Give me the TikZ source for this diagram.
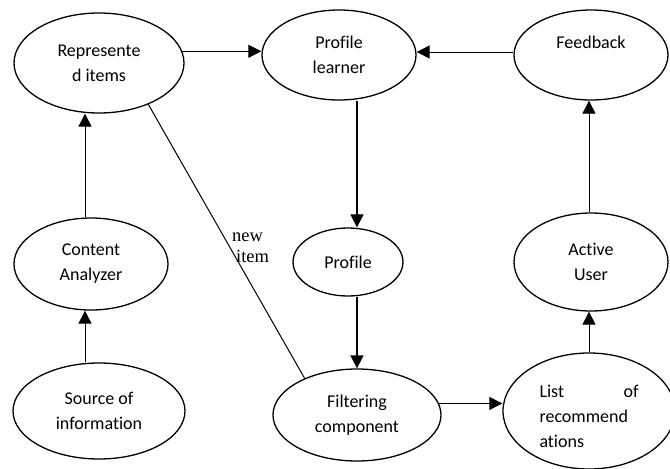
\documentclass[tikz,border=0pt]{standalone}
\usepackage{fontspec}
\setmainfont{Carlito}[Ligatures={NoCommon}]
\newfontfamily\labelfont{Liberation Serif}
\usetikzlibrary{arrows.meta,shapes.geometric}
\begin{document}
\begin{tikzpicture}[x=1pt, y=-1pt, line join=round, >={Triangle[length=13pt,width=13pt]},
 oval/.style={ellipse, draw, line width=1.3pt, inner sep=0pt, align=center, font=\fontsize{18}{25}\selectfont},
 link/.style={->, line width=1pt},
 thicklink/.style={->, line width=1.8pt}]
 \useasboundingbox (0,0) rectangle (670,469);
 % top row
 \node[oval, minimum width=170pt, minimum height=100pt] (ri) at (99,63) {Represente\\d items};
 \node[oval, minimum width=154pt, minimum height=90pt] (pl) at (339,55) {Profile\\learner};
 \node[oval, minimum width=154pt, minimum height=90pt] (fb) at (591,55) {Feedback\\\mbox{}};
 % middle row
 \node[oval, minimum width=154pt, minimum height=92pt] (ca) at (91,264) {Content\\Analyzer};
 \node[oval, minimum width=110pt, minimum height=68pt] (pf) at (348,262) {Profile};
 \node[oval, minimum width=154pt, minimum height=98pt] (au) at (591,262) {Active\\User};
 % bottom row
 \node[oval, minimum width=172pt, minimum height=96pt] (si) at (99,411) {Source of\\information};
 \node[oval, minimum width=168pt, minimum height=92pt] (fc) at (357,415) {Filtering\\component};
 \node[oval, align=left, minimum width=172pt, minimum height=116pt] (lr) at (589,411) {\makebox[99pt]{\rule{0pt}{23pt}List\hfill of}\\recommend\\ations};
 \node[anchor=west, inner sep=0pt, align=left, font=\labelfont\fontsize{18.5}{21}\selectfont] (ni) at (232,248) {new\\\hspace*{4pt}item};
 % connectors
 \draw[link] (ri.8) -- (ri.8 -| pl.west);
 \draw[link] ([yshift=3pt]fb.west) -- ([yshift=3pt]fb.west -| pl.east);
 \draw[link] ([xshift=-6pt]ca.north) -- ([xshift=-6pt]ca.north |- ri.south);
 \draw[link] ([xshift=-14pt]si.north) -- ([xshift=-14pt]si.north |- ca.south);
 \draw[thicklink] ([xshift=18pt]pl.south) -- ([xshift=18pt]pl.south |- pf.north);
 \draw[thicklink] (pf.south -| fc.north) -- (fc.north);
 \draw[link] (fc.8) -- (fc.8 -| lr.west);
 \draw[link] (lr.north) -- (lr.north |- au.south);
 \draw[link] ([xshift=-2pt]au.north) -- ([xshift=-2pt]au.north |- fb.south);
 \draw[line width=1pt] (ri.-40) -- (fc.145);
\end{tikzpicture}
\end{document}
